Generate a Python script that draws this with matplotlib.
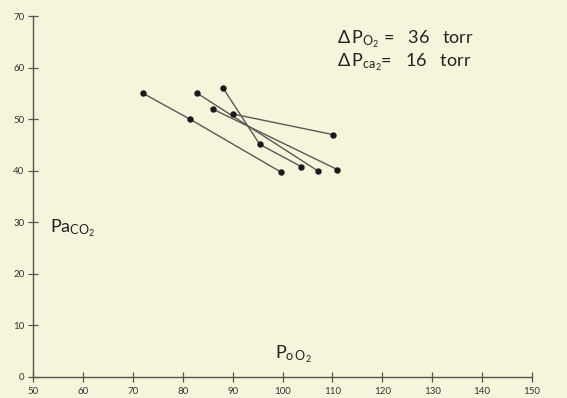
import matplotlib.pyplot as plt

plt.rcParams['font.family'] = ['Lato', 'DejaVu Sans']
plt.rcParams['mathtext.fontset'] = 'custom'
plt.rcParams['mathtext.rm'] = 'Lato'
plt.rcParams['mathtext.it'] = 'Lato'

# data: each run of points joined by a line (PO2, PaCO2)
run_a_x = [72, 81.4, 99.7]
run_a_y = [55, 50, 39.7]
run_b_x = [82.9, 107]
run_b_y = [55, 40]
run_c_x = [88, 95.4, 103.7]
run_c_y = [56.1, 45.1, 40.8]
run_d_x = [86.1, 111]
run_d_y = [51.9, 40.2]
run_e_x = [90, 110.1]
run_e_y = [51, 47]

x_ticks = [50, 60, 70, 80, 90, 100, 110, 120, 130, 140, 150]
y_ticks = [0, 10, 20, 30, 40, 50, 60, 70]

bg = '#f7f4dc'
fig = plt.figure(figsize=(5.67, 3.98), dpi=100, facecolor=bg)
ax = fig.add_axes([0.059, 0.0535, 0.879, 0.906], facecolor=bg)

for xs, ys in [(run_a_x, run_a_y), (run_b_x, run_b_y), (run_c_x, run_c_y),
               (run_d_x, run_d_y), (run_e_x, run_e_y)]:
    ax.plot(xs, ys, color='#5a5a55', lw=1.0, zorder=2)
    ax.plot(xs, ys, 'o', color='#1a1a1a', ms=3.6, zorder=3)

ax.set_xlim(50, 150)
ax.set_ylim(0, 70)
ax.set_xticks(x_ticks)
ax.set_yticks(y_ticks)
ax.spines['top'].set_visible(False)
ax.spines['right'].set_visible(False)
for s in ['left', 'bottom']:
    ax.spines[s].set_color('#555550')
    ax.spines[s].set_linewidth(1.0)
ax.tick_params(direction='inout', length=7, width=0.9, color='#555550',
               labelsize=7, labelcolor='#333333')
ax.tick_params(axis='x', pad=4)
ax.tick_params(axis='y', pad=3)

ax.text(0.033, 0.40, r'$\mathrm{Pa}_{\mathrm{CO}_2}$', transform=ax.transAxes,
        fontsize=13, color='#222222')
ax.text(0.485, 0.05, r'$\mathrm{P}_{\mathrm{o\,O}_2}$', transform=ax.transAxes,
        fontsize=13, color='#222222')

ax.text(0.61, 0.925, r'$\Delta\,\mathrm{P}_{\mathrm{O}_2}$ =   36   torr', transform=ax.transAxes,
        fontsize=13, color='#222222')
ax.text(0.61, 0.86, r'$\Delta\,\mathrm{P}_{\mathrm{ca}_2}$=   16   torr', transform=ax.transAxes,
        fontsize=13, color='#222222')

fig.savefig('out.png', dpi=100, facecolor=bg)
